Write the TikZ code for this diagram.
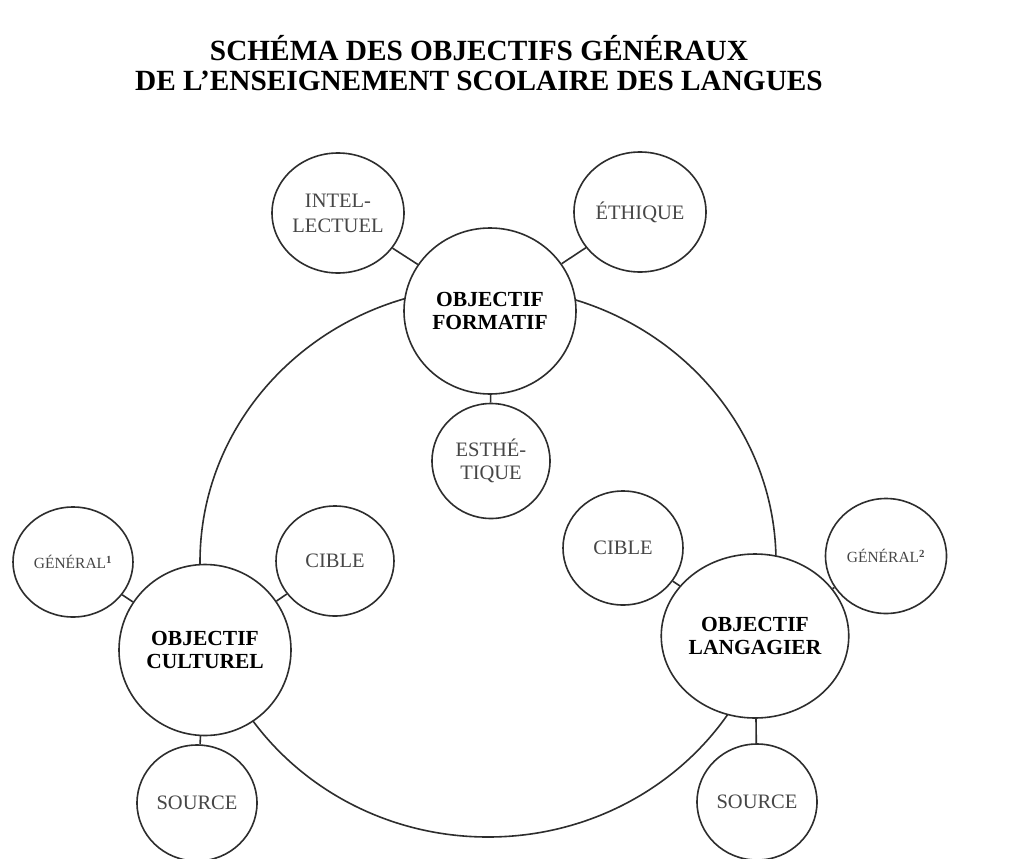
\documentclass[tikz,border=0pt]{standalone}
\usepackage{fontspec}
\setmainfont{Liberation Serif}
\usepackage{xcolor}
\usepackage{tikz}
\usetikzlibrary{shapes.geometric}
\definecolor{inkgray}{RGB}{45, 45, 45}
\definecolor{textgray}{RGB}{70, 70, 70}

\begin{document}
\begin{tikzpicture}[x=1pt, y=-1pt, line width=1.6pt, draw=inkgray,
    bignode/.style={ellipse, draw=inkgray, fill=white, inner sep=0pt, align=center,
        minimum width=172, minimum height=166, font=\fontsize{21.5}{23}\selectfont\bfseries},
    satnode/.style={ellipse, draw=inkgray, fill=white, inner sep=0pt, align=center, text=textgray,
        minimum width=120, minimum height=114, font=\fontsize{20.5}{24}\selectfont}]
    \useasboundingbox[fill=white] (0,0) rectangle (1025,859);
    % title
    \node[anchor=base, font=\fontsize{29.3}{30}\selectfont\bfseries] (title1) at (479,60) {SCHÉMA DES OBJECTIFS GÉNÉRAUX};
    \node[anchor=base, font=\fontsize{29.3}{30}\selectfont\bfseries] (title2) at (479,90) {DE L'ENSEIGNEMENT SCOLAIRE DES LANGUES};
    % ring through the three objectives
    \draw[inkgray] (488,562) ellipse [x radius=288, y radius=275];
    % main objectives
    \node[bignode] (form) at (490,311) {OBJECTIF\\FORMATIF};
    \node[bignode, minimum height=171] (cult) at (205,650) {OBJECTIF\\CULTUREL};
    \node[bignode, minimum width=170, minimum height=164] (lang) at (755,636) {OBJECTIF\\LANGAGIER};
    % satellites
    \node[satnode, minimum width=132, minimum height=120, font=\fontsize{20.5}{25}\selectfont] (intel) at (338,213) {INTEL-\\LECTUEL};
    \node[satnode, minimum width=132, minimum height=120] (ethi) at (640,212) {ÉTHIQUE};
    \node[satnode, minimum width=118, minimum height=115, font=\fontsize{20.5}{23}\selectfont] (esth) at (491,461) {ESTHÉ-\\TIQUE};
    \node[satnode, minimum height=110, font=\fontsize{15.5}{18}\selectfont] (genA) at (73,562) {GÉNÉRAL\textsuperscript{\bfseries 1}};
    \node[satnode, minimum width=118, minimum height=110] (cibA) at (335,561) {CIBLE};
    \node[satnode, minimum height=116] (srcA) at (197,803) {SOURCE};
    \node[satnode] (cibB) at (623,548) {CIBLE};
    \node[satnode, minimum width=121, minimum height=115, font=\fontsize{15.5}{18}\selectfont] (genB) at (886,556) {GÉNÉRAL\textsuperscript{\bfseries 2}};
    \node[satnode, minimum height=116] (srcB) at (757,802) {SOURCE};
    % stubs
    \draw (form) -- (intel);
    \draw (form) -- (ethi);
    \draw (form) -- (esth);
    \draw (cult) -- (genA);
    \draw (cult) -- (cibA);
    \draw (cult) -- (srcA);
    \draw (lang) -- (cibB);
    \draw (lang) -- (genB);
    \draw (lang) -- (srcB);
\end{tikzpicture}
\end{document}
